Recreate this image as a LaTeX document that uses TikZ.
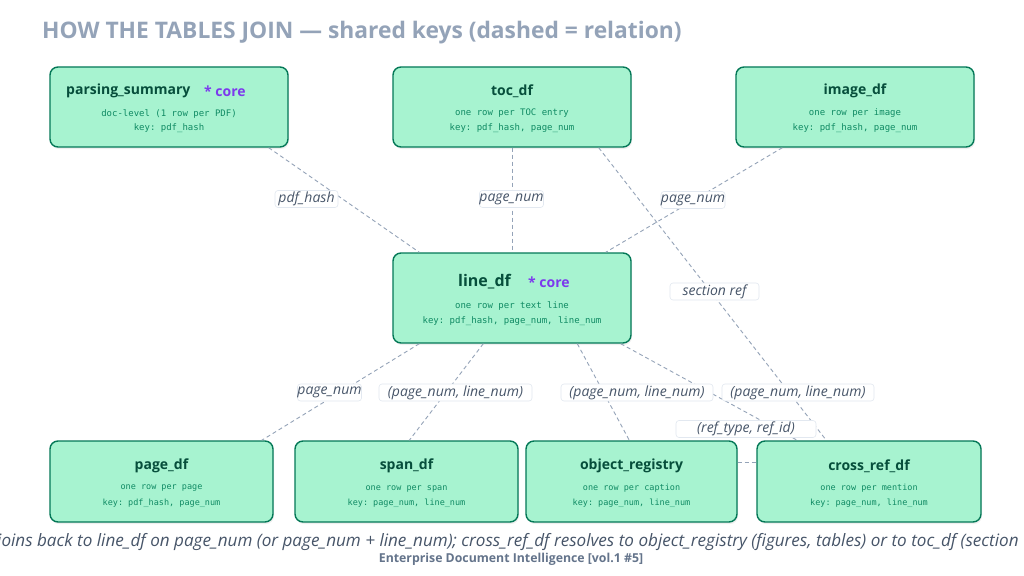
\documentclass[tikz,border=0pt]{standalone}
\usepackage{fontspec}
\setmainfont{Open Sans}
\setmonofont{DejaVu Sans Mono}
\usetikzlibrary{shadows,calc}
\definecolor{boxfill}{HTML}{A7F3D0}
\definecolor{boxdraw}{HTML}{047857}
\definecolor{ttlcol}{HTML}{064E3B}
\definecolor{monocol}{HTML}{0F8A63}
\definecolor{corecol}{HTML}{7C3AED}
\definecolor{edgecol}{HTML}{94A3B8}
\definecolor{lblcol}{HTML}{475569}
\definecolor{lbldraw}{HTML}{E2E8F0}
\definecolor{headcol}{HTML}{94A3B8}
\definecolor{footcol}{HTML}{64748B}
\begin{document}
\begin{tikzpicture}[x=1pt,y=-1pt,
 tbl/.style={draw=boxdraw, line width=1.4pt, fill=boxfill, rounded corners=8pt, inner sep=0pt,
   drop shadow={shadow xshift=1pt, shadow yshift=-2pt, opacity=0.12}},
 ttl/.style={font=\fontsize{14}{16}\selectfont\bfseries, text=ttlcol, inner sep=0pt},
 bigttl/.style={font=\fontsize{16}{18}\selectfont\bfseries, text=ttlcol, inner sep=0pt},
 core/.style={font=\fontsize{14}{16}\selectfont\bfseries, text=corecol, inner sep=0pt},
 mono/.style={font=\fontsize{9}{11}\selectfont\ttfamily, text=monocol, inner sep=0pt},
 smono/.style={font=\fontsize{8.5}{10}\selectfont\ttfamily, text=monocol, inner sep=0pt},
 rel/.style={draw=edgecol, line width=0.9pt, dash pattern=on 4pt off 3pt},
 lbl/.style={draw=lbldraw, fill=white, rounded corners=3pt, line width=0.6pt, inner sep=0pt,
   minimum height=17pt, text=lblcol, font=\fontsize{14}{16}\selectfont\itshape},
]
\useasboundingbox (0,0) rectangle (1024,575);
\fill[white] (0,0) rectangle (1024,575);

% title
\node[anchor=base west, inner sep=0pt, text=headcol, font=\fontsize{22.8}{26}\selectfont\bfseries] (head) at (42,39)
  {HOW THE TABLES JOIN — shared keys (dashed = relation)};

% table boxes
\node[tbl, minimum width=238pt, minimum height=80pt] (ps) at (169,107) {};
\node[tbl, minimum width=238pt, minimum height=80pt] (toc) at (512,107) {};
\node[tbl, minimum width=238pt, minimum height=80pt] (img) at (855,107) {};
\node[tbl, minimum width=238pt, minimum height=90pt] (ln) at (512,298) {};
\node[tbl, minimum width=223pt, minimum height=81pt] (pg) at (161.5,481.5) {};
\node[tbl, minimum width=223pt, minimum height=81pt] (sp) at (406.5,481.5) {};
\node[tbl, minimum width=211pt, minimum height=81pt] (obj) at (631.5,481.5) {};
\node[tbl, minimum width=224pt, minimum height=81pt] (cr) at (869,481.5) {};

% box texts
\node[ttl, anchor=west] (psT) at (66,91) {parsing\_summary};
\node[core, anchor=west] (psC) at (204,91) {* core};
\node[mono] (psA) at (169,113.5) {doc-level (1 row per PDF)};
\node[mono] (psB) at (169,128.5) {key: pdf\_hash};

\node[ttl] (tocT) at (512,91) {toc\_df};
\node[mono] (tocA) at (512,113.5) {one row per TOC entry};
\node[mono] (tocB) at (512,128.5) {key: pdf\_hash, page\_num};

\node[ttl] (imgT) at (855,91) {image\_df};
\node[mono] (imgA) at (855,113.5) {one row per image};
\node[mono] (imgB) at (855,128.5) {key: pdf\_hash, page\_num};

\node[bigttl, anchor=west] (lnT) at (458,282) {line\_df};
\node[core, anchor=west] (lnC) at (528,282) {* core};
\node[mono] (lnA) at (512,305.5) {one row per text line};
\node[mono] (lnB) at (512,321.5) {key: pdf\_hash, page\_num, line\_num};

\node[ttl] (pgT) at (161.5,466) {page\_df};
\node[smono] (pgA) at (161.5,488.5) {one row per page};
\node[smono] (pgB) at (161.5,503.5) {key: pdf\_hash, page\_num};

\node[ttl] (spT) at (406.5,466) {span\_df};
\node[smono] (spA) at (406.5,488.5) {one row per span};
\node[smono] (spB) at (406.5,503.5) {key: page\_num, line\_num};

\node[ttl] (objT) at (631.5,466) {object\_registry};
\node[smono] (objA) at (631.5,488.5) {one row per caption};
\node[smono] (objB) at (631.5,503.5) {key: page\_num, line\_num};

\node[ttl] (crT) at (869,466) {cross\_ref\_df};
\node[smono] (crA) at (869,488.5) {one row per mention};
\node[smono] (crB) at (869,503.5) {key: page\_num, line\_num};

% relations
\draw[rel] ([xshift=-20pt]ps.south east) -- ([xshift=27pt]ln.north west);
\draw[rel] (toc.south) -- (ln.north);
\draw[rel] ([xshift=47pt]img.south west) -- ([xshift=-26pt]ln.north east);
\draw[rel] ([xshift=-33pt]toc.south east) -- ([xshift=70pt]cr.north west);
\draw[rel] ([xshift=27pt]ln.south west) -- ([xshift=-12pt]pg.north east);
\draw[rel] ([xshift=91pt]ln.south west) -- ([xshift=115pt]sp.north west);
\draw[rel] ([xshift=185pt]ln.south west) -- ([xshift=104pt]obj.north west);
\draw[rel] ([xshift=-11pt]ln.south east) -- ([xshift=41pt]cr.north west);
\draw[rel] ([yshift=19.5pt]obj.east) -- ([yshift=19.5pt]cr.west);

% relation labels
\node[lbl, minimum width=63pt] (l1) at (306.5,199) {pdf\_hash};
\node[lbl, minimum width=61pt] (l2) at (511.5,199) {page\_num};
\node[lbl, minimum width=62pt] (l3) at (693,200) {page\_num};
\node[lbl, minimum width=89pt] (l4) at (714.5,291.5) {section ref};
\node[lbl, minimum width=63pt] (l5) at (329.5,392.5) {page\_num};
\node[lbl, minimum width=153pt] (l6) at (455.5,392.5) {(page\_num, line\_num)};
\node[lbl, minimum width=152pt] (l7) at (637,392.5) {(page\_num, line\_num)};
\node[lbl, minimum width=152pt] (l8) at (798,392.5) {(page\_num, line\_num)};
\node[lbl, minimum width=140pt] (l9) at (746,429) {(ref\_type, ref\_id)};

% caption and footer
\node[anchor=base west, inner sep=0pt, text=lblcol, font=\fontsize{17.1}{20}\selectfont\itshape] (cap) at (-3,546)
  {joins back to line\_df on page\_num (or page\_num + line\_num); cross\_ref\_df resolves to object\_registry (figures, tables) or to toc\_df (section};
\node[inner sep=0pt, text=footcol, font=\fontsize{12.3}{14}\selectfont\bfseries] (foot) at (511,559)
  {Enterprise Document Intelligence [vol.1 \#5]};
\end{tikzpicture}
\end{document}
